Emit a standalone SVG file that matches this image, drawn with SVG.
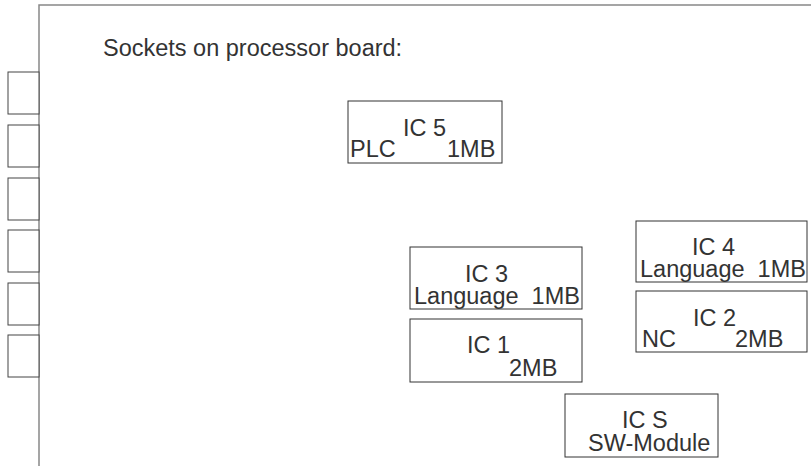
<svg xmlns="http://www.w3.org/2000/svg" width="811" height="466" viewBox="0 0 811 466">
<style>
text{font-family:"Liberation Sans",Arial,sans-serif;font-size:23.5px;fill:#333}
.ic{fill:#fff;stroke:#333;stroke-width:1}
.slot{fill:#fff;stroke:#444;stroke-width:1}
.board{fill:none;stroke:#888;stroke-width:1.5}
</style>
<rect width="811" height="466" fill="#fff"/>
<g id="board">
<path class="board" d="M39,466 V5 H811"/>
<text x="103" y="56">Sockets on processor board:</text>
</g>
<g id="slots">
<rect class="slot" x="8" y="72" width="31" height="42"/>
<rect class="slot" x="8" y="125" width="31" height="42"/>
<rect class="slot" x="8" y="178" width="31" height="42"/>
<rect class="slot" x="8" y="230" width="31" height="42"/>
<rect class="slot" x="8" y="283" width="31" height="42"/>
<rect class="slot" x="8" y="335" width="31" height="42"/>
</g>
<g id="ic5">
<rect class="ic" x="348" y="101" width="154" height="62"/>
<text x="403" y="136">IC 5</text>
<text x="350" y="157">PLC</text>
<text x="447" y="157">1MB</text>
</g>
<g id="ic3">
<rect class="ic" x="410" y="247" width="172" height="62"/>
<text x="465" y="282">IC 3</text>
<text x="414" y="304" xml:space="preserve">Language  1MB</text>
</g>
<g id="ic1">
<rect class="ic" x="410" y="319" width="172" height="63"/>
<text x="467" y="353">IC 1</text>
<text x="509" y="376">2MB</text>
</g>
<g id="ic4">
<rect class="ic" x="636" y="221" width="171" height="61"/>
<text x="692" y="255">IC 4</text>
<text x="640" y="277" xml:space="preserve">Language  1MB</text>
</g>
<g id="ic2">
<rect class="ic" x="636" y="291" width="171" height="61"/>
<text x="693" y="326">IC 2</text>
<text x="642" y="347">NC</text>
<text x="735" y="347">2MB</text>
</g>
<g id="ics">
<rect class="ic" x="565" y="394" width="153" height="63"/>
<text x="622" y="428">IC S</text>
<text x="588" y="451">SW-Module</text>
</g>
<g id="connectors"/>
</svg>
